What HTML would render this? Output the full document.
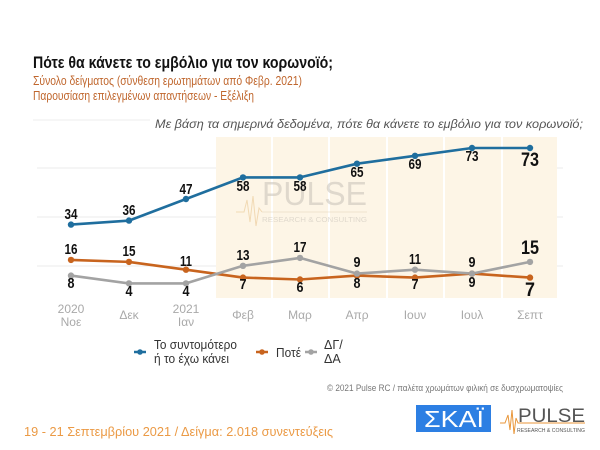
<!DOCTYPE html>
<html><head><meta charset="utf-8"><style>
html,body{margin:0;padding:0;background:#fff;}
svg{display:block;}
</style></head><body>
<svg width="600" height="450" viewBox="0 0 600 450" xmlns="http://www.w3.org/2000/svg" font-family="'Liberation Sans Narrow','Liberation Sans','DejaVu Sans',sans-serif">
<rect width="600" height="450" fill="#fff"/>
<!-- header -->
<text x="33" y="68" font-size="16.5" font-weight="bold" fill="#111" textLength="300" lengthAdjust="spacingAndGlyphs">Πότε θα κάνετε το εμβόλιο για τον κορωνοϊό;</text>
<text x="33" y="85" font-size="13" fill="#c0672e" textLength="269" lengthAdjust="spacingAndGlyphs">Σύνολο δείγματος (σύνθεση ερωτημάτων από Φεβρ. 2021)</text>
<text x="33" y="100" font-size="13" fill="#c0672e" textLength="221" lengthAdjust="spacingAndGlyphs">Παρουσίαση επιλεγμένων απαντήσεων - Εξέλιξη</text>
<line x1="33" y1="120" x2="150" y2="120" stroke="#ececec" stroke-width="1"/>
<text x="155" y="128" font-size="12" font-style="italic" fill="#555" textLength="428" lengthAdjust="spacingAndGlyphs">Με βάση τα σημερινά δεδομένα, πότε θα κάνετε το εμβόλιο για τον κορωνοϊό;</text>

<!-- gridlines -->
<g stroke="#ebebeb" stroke-width="1">
<line x1="37" y1="168" x2="563" y2="168"/>
<line x1="37" y1="217" x2="563" y2="217"/>
<line x1="37" y1="266" x2="563" y2="266"/>
</g>
<!-- shaded region -->
<rect x="216" y="137" width="341" height="161" fill="#fdf5e6"/>
<g stroke="#fff" stroke-width="2">
<line x1="272" y1="137" x2="272" y2="298"/>
<line x1="329" y1="137" x2="329" y2="298"/>
<line x1="387" y1="137" x2="387" y2="298"/>
<line x1="444" y1="137" x2="444" y2="298"/>
<line x1="502" y1="137" x2="502" y2="298"/>
</g>
<!-- watermark -->
<g opacity="0.55">
<text x="262" y="205" font-size="33" fill="#c8c2b8" font-family="'Liberation Sans','DejaVu Sans',sans-serif" textLength="105" lengthAdjust="spacingAndGlyphs">PULSE</text>
<line x1="262" y1="212" x2="367" y2="212" stroke="#d9c8a8" stroke-width="0.8"/>
<text x="262" y="222" font-size="7" fill="#c8c2b8" font-family="'Liberation Sans',sans-serif" textLength="105" lengthAdjust="spacingAndGlyphs">RESEARCH &amp; CONSULTING</text>
<polyline points="236,212 244,212 247,200 250,222 253,196 256,226 259,208 262,212" fill="none" stroke="#e8c28a" stroke-width="1"/>
</g>

<!-- series lines -->
<g fill="none" stroke-width="2.6" stroke-linejoin="round">
<polyline stroke="#1f6e9e" points="71,224.6 129,220.6 186,199 243,177.4 300,177.4 357,163.7 415,155.8 472,148 530,148"/>
<polyline stroke="#c8641e" points="71,259.9 129,261.9 186,269.7 243,277.6 300,279.5 357,275.6 415,277.6 472,273.6 530,277.6"/>
<polyline stroke="#a3a3a3" points="71,275.6 129,283.4 186,283.4 243,265.8 300,257.9 357,273.6 415,269.7 472,273.6 530,261.9"/>
</g>
<g fill="#1f6e9e">
<circle cx="71" cy="224.6" r="3.2"/><circle cx="129" cy="220.6" r="3.2"/><circle cx="186" cy="199" r="3.2"/><circle cx="243" cy="177.4" r="3.2"/><circle cx="300" cy="177.4" r="3.2"/><circle cx="357" cy="163.7" r="3.2"/><circle cx="415" cy="155.8" r="3.2"/><circle cx="472" cy="148" r="3.2"/><circle cx="530" cy="148" r="3.2"/>
</g>
<g fill="#c8641e">
<circle cx="71" cy="259.9" r="3.2"/><circle cx="129" cy="261.9" r="3.2"/><circle cx="186" cy="269.7" r="3.2"/><circle cx="243" cy="277.6" r="3.2"/><circle cx="300" cy="279.5" r="3.2"/><circle cx="357" cy="275.6" r="3.2"/><circle cx="415" cy="277.6" r="3.2"/><circle cx="472" cy="273.6" r="3.2"/><circle cx="530" cy="277.6" r="3.2"/>
</g>
<g fill="#a3a3a3">
<circle cx="71" cy="275.6" r="3.2"/><circle cx="129" cy="283.4" r="3.2"/><circle cx="186" cy="283.4" r="3.2"/><circle cx="243" cy="265.8" r="3.2"/><circle cx="300" cy="257.9" r="3.2"/><circle cx="357" cy="273.6" r="3.2"/><circle cx="415" cy="269.7" r="3.2"/><circle cx="472" cy="273.6" r="3.2"/><circle cx="530" cy="261.9" r="3.2"/>
</g>

<!-- data labels -->
<g font-size="14.5" font-weight="bold" fill="#111" text-anchor="middle">
<text x="71" y="219" textLength="13" lengthAdjust="spacingAndGlyphs">34</text><text x="129" y="215" textLength="13" lengthAdjust="spacingAndGlyphs">36</text><text x="186" y="194" textLength="13" lengthAdjust="spacingAndGlyphs">47</text>
<text x="243" y="191" textLength="13" lengthAdjust="spacingAndGlyphs">58</text><text x="300" y="191" textLength="13" lengthAdjust="spacingAndGlyphs">58</text><text x="357" y="177" textLength="13" lengthAdjust="spacingAndGlyphs">65</text>
<text x="415" y="169" textLength="13" lengthAdjust="spacingAndGlyphs">69</text><text x="472" y="161" textLength="13" lengthAdjust="spacingAndGlyphs">73</text>
<text x="71" y="254" textLength="13" lengthAdjust="spacingAndGlyphs">16</text><text x="129" y="256" textLength="13" lengthAdjust="spacingAndGlyphs">15</text><text x="186" y="266" textLength="12" lengthAdjust="spacingAndGlyphs">11</text>
<text x="243" y="289" textLength="7" lengthAdjust="spacingAndGlyphs">7</text><text x="300" y="292" textLength="7" lengthAdjust="spacingAndGlyphs">6</text><text x="357" y="288" textLength="7" lengthAdjust="spacingAndGlyphs">8</text>
<text x="415" y="289" textLength="7" lengthAdjust="spacingAndGlyphs">7</text><text x="472" y="287" textLength="7" lengthAdjust="spacingAndGlyphs">9</text>
<text x="71" y="288" textLength="7" lengthAdjust="spacingAndGlyphs">8</text><text x="129" y="296" textLength="7" lengthAdjust="spacingAndGlyphs">4</text><text x="186" y="296" textLength="7" lengthAdjust="spacingAndGlyphs">4</text>
<text x="243" y="260" textLength="13" lengthAdjust="spacingAndGlyphs">13</text><text x="300" y="252" textLength="13" lengthAdjust="spacingAndGlyphs">17</text><text x="357" y="267" textLength="7" lengthAdjust="spacingAndGlyphs">9</text>
<text x="415" y="264" textLength="12" lengthAdjust="spacingAndGlyphs">11</text><text x="472" y="267" textLength="7" lengthAdjust="spacingAndGlyphs">9</text>
</g>
<g font-size="19.5" font-weight="bold" fill="#111" text-anchor="middle">
<text x="530" y="166" textLength="18" lengthAdjust="spacingAndGlyphs">73</text>
<text x="530" y="254" textLength="18" lengthAdjust="spacingAndGlyphs">15</text>
<text x="530" y="296" textLength="10" lengthAdjust="spacingAndGlyphs">7</text>
</g>

<!-- x axis labels -->
<g font-size="12" fill="#a9a9a9" text-anchor="middle">
<text x="71" y="313">2020</text><text x="71" y="326">Noε</text>
<text x="129" y="319">Δεκ</text>
<text x="186" y="313">2021</text><text x="186" y="326">Ιαν</text>
<text x="243" y="319">Φεβ</text>
<text x="300" y="319">Μαρ</text>
<text x="357" y="319">Απρ</text>
<text x="415" y="319">Ιουν</text>
<text x="472" y="319">Ιουλ</text>
<text x="530" y="319">Σεπτ</text>
</g>

<!-- legend -->
<line x1="134" y1="352" x2="146" y2="352" stroke="#1f6e9e" stroke-width="2.5"/><circle cx="140" cy="352" r="2.8" fill="#1f6e9e"/>
<text x="154" y="349" font-size="12.5" fill="#333" textLength="83" lengthAdjust="spacingAndGlyphs">Το συντομότερο</text>
<text x="154" y="363" font-size="12.5" fill="#333" textLength="75" lengthAdjust="spacingAndGlyphs">ή το έχω κάνει</text>
<line x1="256" y1="352" x2="268" y2="352" stroke="#c8641e" stroke-width="2.5"/><circle cx="262" cy="352" r="2.8" fill="#c8641e"/>
<text x="276" y="357" font-size="12.5" fill="#333" textLength="25" lengthAdjust="spacingAndGlyphs">Ποτέ</text>
<line x1="305" y1="352" x2="317" y2="352" stroke="#a3a3a3" stroke-width="2.5"/><circle cx="311" cy="352" r="2.8" fill="#a3a3a3"/>
<text x="324" y="349" font-size="12.5" fill="#333">ΔΓ/</text>
<text x="324" y="363" font-size="12.5" fill="#333">ΔΑ</text>

<!-- copyright -->
<text x="327" y="391" font-size="9.5" fill="#777" textLength="236" lengthAdjust="spacingAndGlyphs">© 2021 Pulse RC  /  παλέτα χρωμάτων φιλική σε δυσχρωματοψίες</text>

<!-- footer -->
<text x="24" y="436" font-size="12.5" fill="#eb9a45" font-family="'Liberation Sans','DejaVu Sans',sans-serif" textLength="309" lengthAdjust="spacingAndGlyphs">19 - 21 Σεπτεμβρίου 2021 / Δείγμα:  2.018 συνεντεύξεις</text>

<!-- SKAI logo -->
<rect x="416" y="405" width="75" height="27" fill="#2d7fe3"/>
<text x="424" y="427" font-size="23" fill="#fff" font-family="'Liberation Sans','DejaVu Sans',sans-serif" textLength="60" lengthAdjust="spacingAndGlyphs">ΣΚΑΪ</text>

<!-- PULSE logo -->
<text x="518" y="422" font-size="19" fill="#555" font-family="'Liberation Sans','DejaVu Sans',sans-serif" textLength="67" lengthAdjust="spacingAndGlyphs">PULSE</text>
<polyline points="500,423 505,423 508,415 510,430 512,410 514,434 516,418 518,423 585,423" fill="none" stroke="#e8963a" stroke-width="1"/>
<text x="517" y="432" font-size="5" fill="#555" font-family="'Liberation Sans',sans-serif" textLength="68" lengthAdjust="spacingAndGlyphs">RESEARCH &amp; CONSULTING</text>
</svg>
</body></html>
